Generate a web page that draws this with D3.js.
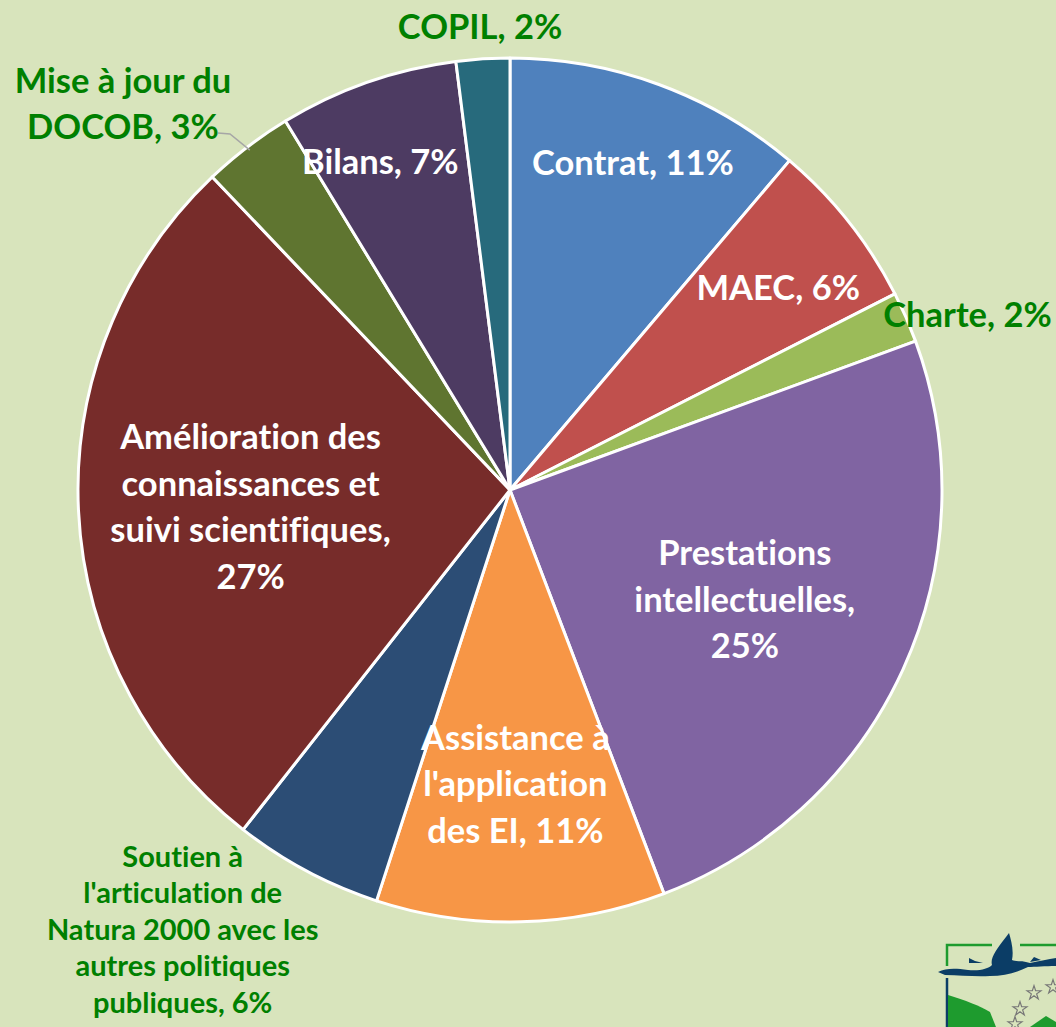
<!DOCTYPE html>
<html>
<head>
<meta charset="utf-8">
<script src="https://cdn.jsdelivr.net/npm/d3@7"></script>
<style>
  html, body { margin: 0; padding: 0; background: #D8E4BC; }
  svg { display: block; }
  .label { font-variant-ligatures: none; }
</style>
</head>
<body>
<svg width="1056" height="1027"></svg>
<script>
// données
var categories = ["Contrat", "MAEC", "Charte", "Prestations intellectuelles",
  "Assistance à l'application des EI", "Soutien à l'articulation de Natura 2000 avec les autres politiques publiques",
  "Amélioration des connaissances et suivi scientifiques", "Mise à jour du DOCOB", "Bilans", "COPIL"];
var values = [11.2, 6.3, 1.9, 24.8, 10.8, 5.6, 27.3, 3.4, 6.7, 2.0];
var colors = ["#4F81BD", "#C0504D", "#9BBB59", "#8064A2", "#F79646",
  "#2C4D75", "#772C2A", "#5F7530", "#4D3B62", "#276A7C"];

// mise en page des étiquettes (lignes, rayon, décalage d'angle en degrés, dedans/dehors)
var labelLines = [
  ["Contrat, 11%"],
  ["MAEC, 6%"],
  ["Charte, 2%"],
  ["Prestations", "intellectuelles,", "25%"],
  ["Assistance à", "l'application", "des EI, 11%"],
  ["Soutien à", "l'articulation de", "Natura 2000 avec les", "autres politiques", "publiques, 6%"],
  ["Amélioration des", "connaissances et", "suivi scientifiques,", "27%"],
  ["Mise à jour du", "DOCOB, 3%"],
  ["Bilans, 7%"],
  ["COPIL, 2%"]
];
var labelPos = [
  {r: 350, da: 0.4, inside: true},
  {r: 336, da: 1.3, inside: true},
  {r: 490, da: 2.6, inside: false},
  {r: 259, da: 0.5, inside: true},
  {r: 294, da: 0.4, inside: true},
  {r: 548, da: 8.6, inside: false},
  {r: 260, da: -1.0, inside: true},
  {r: 547, da: -7.6, inside: false},
  {r: 353, da: -2.3, inside: true},
  {r: 464, da: -0.1, inside: false}
];

var svg = d3.select("svg"),
    width = +svg.attr("width"),
    height = +svg.attr("height");

var cx = 510, cy = 490, radius = 432;

var g = svg.append("g")
    .attr("transform", "translate(" + cx + "," + cy + ")");

var pie = d3.pie().sort(null).value(function(d) { return d; });
var arcs = pie(values);

var path = d3.arc().innerRadius(0).outerRadius(radius);

g.selectAll(".slice")
  .data(arcs).enter().append("path")
    .attr("class", "slice")
    .attr("d", path)
    .attr("fill", function(d, i) { return colors[i]; })
    .attr("stroke", "#fff")
    .attr("stroke-width", 3)
    .attr("stroke-linejoin", "round");

// ligne de rappel pour "Mise à jour du DOCOB"
(function() {
  var a = arcs[7];
  var mid = (a.startAngle + a.endAngle) / 2;
  var p = d3.pointRadial(mid, radius - 4);
  g.append("polyline")
    .attr("points", [[p[0], p[1]], [-280, -356], [-292, -357]].map(function(q) { return q.join(","); }).join(" "))
    .attr("fill", "none")
    .attr("stroke", "#A6A6A6")
    .attr("stroke-width", 1.5);
})();

var labels = g.selectAll(".label")
  .data(arcs).enter().append("text")
    .attr("class", "label")
    .attr("text-anchor", "middle")
    .attr("font-family", "Lato, 'Open Sans', sans-serif")
    .attr("font-weight", "bold")
    .attr("font-size", function(d, i) { return i == 5 ? 29 : 34.5; })
    .attr("fill", function(d, i) { return labelPos[i].inside ? "#fff" : "#008000"; })
    .attr("transform", function(d, i) {
      var mid = (d.startAngle + d.endAngle) / 2 + labelPos[i].da * Math.PI / 180;
      var p = d3.pointRadial(mid, labelPos[i].r);
      return "translate(" + p[0] + "," + p[1] + ")";
    });

labels.each(function(d, i) {
  var lines = labelLines[i];
  var lh = i == 5 ? 36.5 : 46.5;
  var y0 = -(lines.length - 1) * lh / 2;
  d3.select(this).selectAll("tspan")
    .data(lines).enter().append("tspan")
      .attr("x", 0)
      .attr("y", function(t, k) { return y0 + k * lh; })
      .attr("dy", "0.36em")
      .text(function(t) { return t; });
});

// logo Natura 2000 (coin bas droit, coupé)
var logo = svg.append("g").attr("class", "logo");
logo.append("path")
  .attr("d", "M947,966 L947,945 L992,945 M1020,945 L1056,945")
  .attr("fill", "none").attr("stroke", "#1E9B2E").attr("stroke-width", 2.5);
logo.append("path")
  .attr("d", "M947,978 L947,1027")
  .attr("fill", "none").attr("stroke", "#0B3D66").attr("stroke-width", 2.5);
logo.append("path")
  .attr("d", "M948,995 C965,1000 980,1006 990,1012 L996,1027 L948,1027 Z")
  .attr("fill", "#1E9B2E");
logo.append("path")
  .attr("d", "M1030,1027 L1046,1016 L1056,1022 L1056,1027 Z")
  .attr("fill", "#1E9B2E");
logo.append("path")
  .attr("d", "M938,972 C946,968 955,968 968,970 C980,971 988,969 992,965 C990,958 996,950 1006,937 L1009,933 C1011,940 1014,950 1012,960 C1016,962 1022,960 1030,963 C1040,961 1048,959 1056,958 L1056,966 C1045,966 1035,967 1028,967 C1018,972 1005,976 990,976 C975,977 960,975 945,975 Z")
  .attr("fill", "#0B3D66");
logo.append("path")
  .attr("d", "M969,963 L969,958 L975,961 L983,963 Z M1030,962 L1034,957 L1041,960 Z")
  .attr("fill", "#0B3D66");

var star = d3.symbol().type(d3.symbolStar).size(60);
[[1034, 993], [1053, 987], [1020, 1009], [1015, 1024]].forEach(function(s) {
  logo.append("path")
    .attr("d", star())
    .attr("transform", "translate(" + s[0] + "," + s[1] + ") rotate(0)")
    .attr("fill", "none").attr("stroke", "#777").attr("stroke-width", 1.2);
});
</script>
</body>
</html>
